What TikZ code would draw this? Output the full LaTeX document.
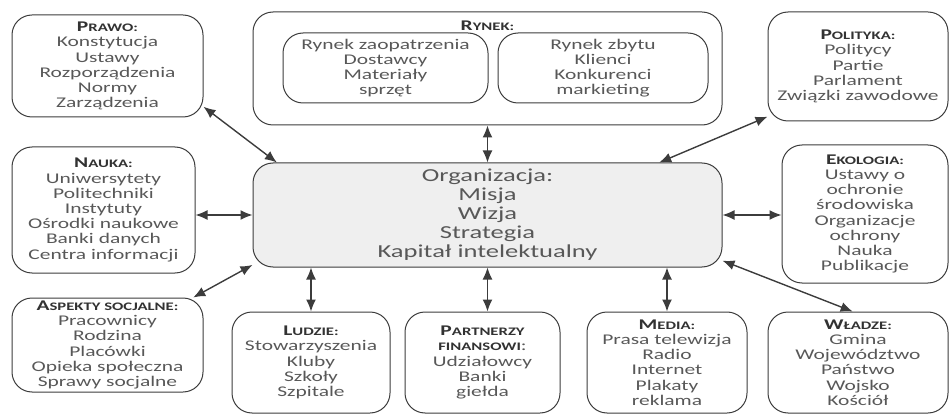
\documentclass[tikz,border=0pt]{standalone}
\usepackage{fontspec}
\setmainfont[FakeStretch=1.45]{Carlito}
\usetikzlibrary{arrows.meta}

\definecolor{oLine}{RGB}{60,60,60}
\definecolor{oText}{RGB}{88,88,88}
\definecolor{oTitle}{RGB}{50,50,50}
\definecolor{oFill}{RGB}{239,239,239}

% small-caps style heading: first letter full size, rest smaller
\newcommand{\hd}[2]{{\bfseries\color{oTitle}#1{\fontsize{11.5}{12}\selectfont #2}}}

\tikzset{
  box/.style={draw=oLine, line width=1pt, rounded corners=20pt, align=center,
    inner sep=0pt, text=oText, font=\fontsize{14.8}{15.2}\selectfont},
  orgbox/.style={box, fill=oFill, font=\fontsize{18.3}{19}\selectfont},
  conn/.style={{Latex[length=12pt,width=10pt]}-{Latex[length=12pt,width=10pt]},
    line width=1.4pt, draw=oLine},
}

\begin{document}
\begin{tikzpicture}[x=1pt, y=-1pt]
  \useasboundingbox (0,0) rectangle (950,414);

  % ---- centre ----
  \node[orgbox, minimum width=469pt, minimum height=104pt] (org) at (487.5,215)
    {Organizacja:\\Misja\\Wizja\\Strategia\\Kapitał intelektualny};

  % ---- top row ----
  \node[box, minimum width=191pt, minimum height=102pt] (prawo) at (107.5,66)
    {\hd{P}{RAWO:}\\Konstytucja\\Ustawy\\Rozporządzenia\\Normy\\Zarządzenia};
  \node[box, minimum width=469pt, minimum height=113pt] (rynek) at (487.5,68.5) {};
  \node[text=oText, font=\fontsize{14.8}{15.2}\selectfont] (rynekT) at (487.5,26) {\hd{R}{YNEK:}};
  \node[box, minimum width=205pt, minimum height=70pt] (zaop) at (385.5,68)
    {Rynek zaopatrzenia\\Dostawcy\\Materiały\\sprzęt};
  \node[box, minimum width=210pt, minimum height=70pt] (zbyt) at (603,68)
    {Rynek zbytu\\Klienci\\Konkurenci\\markieting};
  \node[box, minimum width=180pt, minimum height=109pt] (pol) at (858,66.5)
    {\hd{P}{OLITYKA:}\\Politycy\\Partie\\Parlament\\Związki zawodowe};

  % ---- middle row ----
  \node[box, minimum width=183pt, minimum height=126pt] (nauka) at (103.5,210)
    {\hd{N}{AUKA:}\\Uniwersytety\\Politechniki\\Instytuty\\Ośrodki naukowe\\Banki danych\\Centra informacji};
  \node[box, minimum width=166pt, minimum height=138pt] (eko) at (865,214)
    {\hd{E}{KOLOGIA:}\\Ustawy o\\ochronie\\środowiska\\Organizacje\\ochrony\\Nauka\\Publikacje};

  % ---- bottom row ----
  \node[box, minimum width=191pt, minimum height=94pt] (asp) at (107.5,345)
    {\hd{A}{SPEKTY SOCJALNE:}\\Pracownicy\\Rodzina\\Placówki\\Opieka społeczna\\Sprawy socjalne};
  \node[box, minimum width=158pt, minimum height=101pt] (ludzie) at (311,362.5)
    {\hd{L}{UDZIE:}\\Stowarzyszenia\\Kluby\\Szkoły\\Szpitale};
  \node[box, minimum width=155pt, minimum height=101pt] (partn) at (482.5,362.5)
    {\hd{P}{ARTNERZY}\\\hd{}{FINANSOWI}:\\Udziałowcy\\Banki\\giełda};
  \node[box, minimum width=160pt, minimum height=101pt] (media) at (667,362.5)
    {\hd{M}{EDIA:}\\Prasa telewizja\\Radio\\Internet\\Plakaty\\reklama};
  \node[box, minimum width=180pt, minimum height=101pt] (wladze) at (858,362.5)
    {\hd{W}{ŁADZE:}\\Gmina\\Województwo\\Państwo\\Wojsko\\Kościół};

  % ---- connectors ----
  \draw[conn] (prawo.-23) -- (org.166);
  \draw[conn] (rynek.south) -- (org.north);
  \draw[conn] (pol.209) -- (org.17);
  \draw[conn] (nauka.east |- org.west) -- (org.west);
  \draw[conn] (eko.west |- org.east) -- (org.east);
  \draw[conn] (asp.29) -- (org.192);
  \draw[conn] (wladze.96) -- (org.-11.5);
  \draw[conn] (org.south -| ludzie.north) -- (ludzie.north);
  \draw[conn] (org.south) -- (org.south |- partn.north);
  \draw[conn] (org.south -| media.north) -- (media.north);

\end{tikzpicture}
\end{document}
